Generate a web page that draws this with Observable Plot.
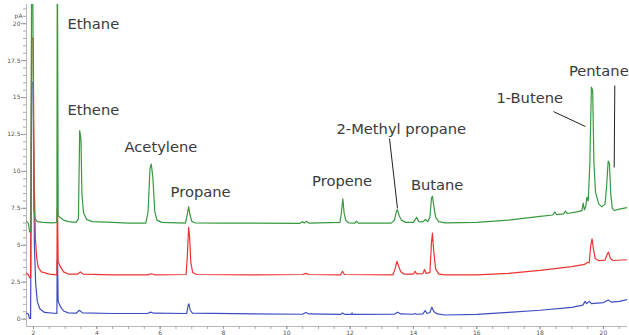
<!DOCTYPE html>
<html>
<head>
<meta charset="utf-8">
<script src="https://cdn.jsdelivr.net/npm/d3@7"></script>
<script src="https://cdn.jsdelivr.net/npm/@observablehq/plot@0.6"></script>
<style>
  html, body { margin: 0; padding: 0; background: #fff; }
  #chart svg { display: block; }
</style>
</head>
<body>
<div id="chart"></div>
<script>
// Retention time window (min) and signal window (pA)
const timeDomain = [1.78, 20.76];
const signalDomain = [-0.5, 21.3];

// Axis ticks
const timeTicks = [2, 4, 6, 8, 10, 12, 14, 16, 18, 20];
const timeMinorTicks = d3.range(2, 20.76, 0.5);
const signalTicks = [0, 2.5, 5, 7.5, 10, 12.5, 15, 17.5, 20];
const signalMinorTicks = d3.range(0, 21.01, 0.5);

// Chromatogram traces: [retention time (min), signal (pA)]
const greenTrace = [
  [1.78, 6.6], [1.84, 6.5], [1.88, 5.9], [1.92, 5.9], [1.94, 22], [1.98, 22],
  [2.01, 7.5], [2.05, 6.8], [2.12, 6.6], [2.3, 6.55], [2.6, 6.52], [2.74, 6.55],
  [2.75, 22], [2.76, 22], [2.78, 7.0], [2.86, 6.85], [2.95, 6.7], [3.1, 6.6],
  [3.35, 6.55], [3.42, 6.8], [3.46, 12.77], [3.50, 12.2], [3.53, 8.5], [3.58, 7.2],
  [3.68, 6.75], [3.85, 6.6], [4.5, 6.55], [5.0, 6.5], [5.55, 6.5], [5.62, 7.3],
  [5.68, 10.2], [5.72, 10.5], [5.77, 9.6], [5.83, 7.3], [5.9, 6.7], [6.05, 6.55],
  [6.8, 6.5], [6.86, 7.1], [6.9, 7.62], [6.94, 7.1], [7.0, 6.62], [7.1, 6.52],
  [8.0, 6.5], [9.0, 6.5], [10.4, 6.48], [10.5, 6.6], [10.55, 6.5], [10.62, 6.62],
  [10.7, 6.5], [11.68, 6.55], [11.73, 7.3], [11.77, 8.14], [11.81, 7.2], [11.86, 6.7],
  [11.95, 6.52], [12.15, 6.5], [12.2, 6.63], [12.26, 6.5], [13.3, 6.5], [13.4, 6.7],
  [13.47, 7.35], [13.5, 7.4], [13.55, 7.0], [13.62, 6.7], [13.75, 6.55], [14.0, 6.55],
  [14.1, 6.9], [14.17, 6.6], [14.3, 6.58], [14.38, 6.74], [14.45, 6.6], [14.52, 6.9],
  [14.57, 8.2], [14.6, 8.32], [14.64, 7.7], [14.7, 6.9], [14.8, 6.6], [15.0, 6.52],
  [16.0, 6.55], [17.0, 6.7], [18.0, 6.95], [18.4, 7.05], [18.46, 7.24], [18.52, 7.08],
  [18.74, 7.12], [18.8, 7.31], [18.86, 7.15], [19.2, 7.28], [19.32, 7.35], [19.36, 7.85],
  [19.4, 7.4], [19.44, 7.6], [19.48, 8.25], [19.52, 8.0], [19.57, 10.5], [19.62, 15.7],
  [19.66, 15.5], [19.7, 10.5], [19.75, 8.6], [19.85, 7.8], [19.95, 7.6], [20.05, 7.8],
  [20.1, 9.0], [20.15, 10.7], [20.19, 10.5], [20.23, 8.5], [20.28, 7.5], [20.35, 7.35],
  [20.5, 7.45], [20.76, 7.55]
];

const redTrace = [
  [1.78, 3.1], [1.84, 3.0], [1.88, 2.8], [1.91, 2.8], [1.94, 19], [1.99, 19],
  [2.02, 10], [2.06, 5.5], [2.1, 4.2], [2.15, 3.5], [2.25, 3.2], [2.5, 3.05],
  [2.74, 3.0], [2.75, 7.5], [2.76, 7.5], [2.78, 3.9], [2.85, 3.55], [2.95, 3.2],
  [3.1, 3.05], [3.4, 3.05], [3.48, 3.2], [3.56, 3.05], [4.5, 3.0], [5.6, 3.0],
  [5.72, 3.07], [5.85, 3.0], [6.82, 3.02], [6.86, 4.3], [6.9, 6.22], [6.93, 5.6],
  [6.97, 3.8], [7.03, 3.15], [7.15, 3.02], [9.0, 3.0], [10.5, 3.02], [10.6, 3.1],
  [10.7, 3.02], [11.7, 3.0], [11.76, 3.24], [11.82, 3.02], [13.35, 3.0], [13.42, 3.4],
  [13.48, 3.92], [13.53, 3.6], [13.6, 3.2], [13.7, 3.05], [14.0, 3.05], [14.05, 3.24],
  [14.1, 3.06], [14.3, 3.08], [14.35, 3.36], [14.4, 3.1], [14.52, 3.15], [14.57, 5.2],
  [14.6, 5.82], [14.64, 4.6], [14.7, 3.4], [14.8, 3.05], [15.0, 3.0], [16.0, 3.0],
  [17.0, 3.1], [18.0, 3.3], [19.0, 3.55], [19.4, 3.7], [19.5, 3.85], [19.55, 3.8],
  [19.6, 5.0], [19.64, 5.44], [19.68, 4.8], [19.74, 4.1], [19.85, 3.95], [20.05, 4.0],
  [20.12, 4.4], [20.16, 4.53], [20.22, 4.1], [20.3, 3.97], [20.76, 4.02]
];

const blueTrace = [
  [1.78, 0.4], [1.84, 0.35], [1.87, 0.05], [1.91, 0.05], [1.94, 16], [1.99, 16],
  [2.03, 5], [2.07, 2.4], [2.12, 1.2], [2.2, 0.7], [2.35, 0.45], [2.74, 0.38],
  [2.75, 4.0], [2.76, 4.0], [2.78, 1.2], [2.85, 0.85], [2.95, 0.55], [3.1, 0.42],
  [3.35, 0.4], [3.45, 0.6], [3.55, 0.42], [4.5, 0.38], [5.6, 0.38], [5.7, 0.47],
  [5.8, 0.4], [6.84, 0.38], [6.88, 0.9], [6.91, 1.04], [6.95, 0.6], [7.02, 0.4],
  [9.0, 0.35], [10.5, 0.33], [10.6, 0.45], [10.7, 0.35], [11.7, 0.32], [11.76, 0.42],
  [11.82, 0.32], [12.04, 0.32], [12.06, 0.42], [12.08, 0.32], [13.4, 0.33], [13.5, 0.47],
  [13.6, 0.35], [14.0, 0.33], [14.05, 0.38], [14.1, 0.33], [14.3, 0.35], [14.37, 0.58],
  [14.43, 0.38], [14.52, 0.45], [14.58, 0.81], [14.65, 0.5], [14.75, 0.35], [15.0, 0.28],
  [16.0, 0.32], [17.0, 0.45], [18.0, 0.6], [19.0, 0.8], [19.35, 0.95], [19.42, 1.2],
  [19.47, 1.05], [19.55, 1.2], [19.62, 1.05], [20.0, 1.12], [20.15, 1.3], [20.25, 1.15],
  [20.5, 1.2], [20.76, 1.32]
];

const traceColors = { green: "#37993f", red: "#ec3434", blue: "#3f4dc2" };

// Peak names and where they are written
const peakNames = ["Ethane", "Ethene", "Acetylene", "Propane", "Propene",
  "2-Methyl propane", "Butane", "1-Butene", "Pentane"];
const labelTime = [3.075, 3.075, 4.875, 6.33, 10.8, 11.57, 13.92, 16.62, 18.91];
const labelSignal = [19.67, 13.83, 11.3, 8.25, 8.98, 12.5, 8.71, 14.64, 16.49];

// Leader lines from a name to its peak
const leaderFrom = [[13.244, 12.23], [18.423, 14.05], [20.359, 15.81]];
const leaderTo = [[13.496, 7.49], [19.433, 13.04], [20.34, 10.26]];

const toRows = (trace) => trace.map(([t, v]) => ({ t, v }));
const labels = peakNames.map((name, i) => ({ name, t: labelTime[i], v: labelSignal[i] }));
const leaders = leaderFrom.map((p, i) => ({ x1: p[0], y1: p[1], x2: leaderTo[i][0], y2: leaderTo[i][1] }));

const chart = Plot.plot({
  width: 629,
  height: 335,
  marginLeft: 26,
  marginRight: 2,
  marginTop: 4,
  marginBottom: 9,
  style: { fontFamily: "DejaVu Sans", background: "#fff" },
  x: { domain: timeDomain },
  y: { domain: signalDomain },
  marks: [
    Plot.ruleX([timeDomain[0]], { stroke: "#b8b8b8", strokeWidth: 1 }),
    Plot.ruleY([signalDomain[0]], { stroke: "#b8b8b8", strokeWidth: 1 }),
    // minor ticks only, no labels
    Plot.axisY({ ticks: signalMinorTicks, tickSize: 3, text: null, stroke: "#aaa" }),
    Plot.axisY({ ticks: signalTicks, tickSize: 5, tickPadding: 1, fontSize: 6,
      tickFormat: (d) => String(d), stroke: "#999", fill: "#555" }),
    Plot.axisX({ ticks: timeMinorTicks, tickSize: 3, text: null, stroke: "#aaa" }),
    Plot.axisX({ ticks: timeTicks, tickSize: 3, tickPadding: 1, fontSize: 6,
      tickFormat: (d) => String(d), stroke: "#999", fill: "#555" }),
    Plot.text(["pA"], { frameAnchor: "top-left", dx: -4, dy: 9, textAnchor: "end",
      fontSize: 6, fill: "#555" }),
    Plot.line(toRows(blueTrace), { x: "t", y: "v", stroke: traceColors.blue, strokeWidth: 1.2, clip: true }),
    Plot.line(toRows(redTrace), { x: "t", y: "v", stroke: traceColors.red, strokeWidth: 1.2, clip: true }),
    Plot.line(toRows(greenTrace), { x: "t", y: "v", stroke: traceColors.green, strokeWidth: 1.2, clip: true }),
    Plot.link(leaders, { x1: "x1", y1: "y1", x2: "x2", y2: "y2", stroke: "#222", strokeWidth: 1 }),
    Plot.text(labels, { x: "t", y: "v", text: "name", textAnchor: "start", lineAnchor: "bottom",
      fontSize: 14.7, fill: "#3a3a3a" })
  ]
});

document.getElementById("chart").appendChild(chart);
</script>
</body>
</html>
